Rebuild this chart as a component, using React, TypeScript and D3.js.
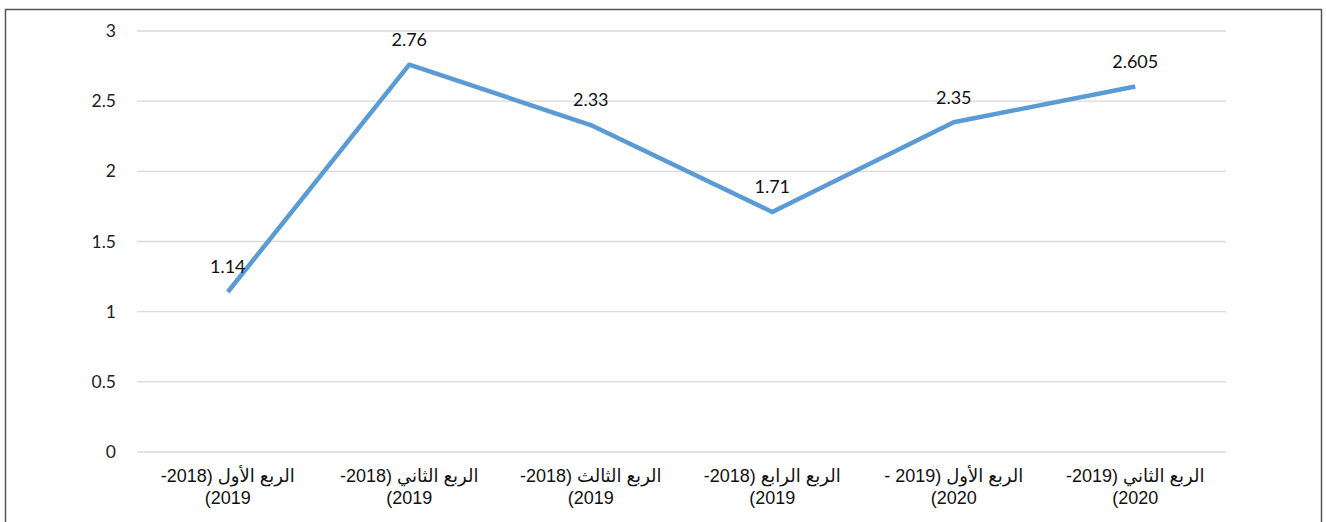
import React, { useRef, useEffect } from "react";
import * as d3 from "d3";

const categories = [
  ["الربع الأول (2018-", "2019)"],
  ["الربع الثاني (2018-", "2019)"],
  ["الربع الثالث (2018-", "2019)"],
  ["الربع الرابع (2018-", "2019)"],
  ["الربع الأول (2019 -", "2020)"],
  ["الربع الثاني (2019-", "2020)"],
];
const values = [1.14, 2.76, 2.33, 1.71, 2.35, 2.605];
const valueLabels = ["1.14", "2.76", "2.33", "1.71", "2.35", "2.605"];
const yTicks = [0, 0.5, 1, 1.5, 2, 2.5, 3];

export default function App() {
  const svgRef = useRef<SVGSVGElement>(null);

  useEffect(() => {
    const svg = d3.select(svgRef.current);
    svg.selectAll("*").remove();

    const width = 1326;
    const height = 522;
    const left = 137;
    const right = 1226;
    const top = 31;
    const bottom = 452;

    svg.attr("width", width).attr("height", height);

    svg.append("rect")
      .attr("width", width).attr("height", height).attr("fill", "#fff");

    // outer frame
    svg.append("path")
      .attr("d", `M5.5,${height} V9.5 H1321.5 V${height}`)
      .attr("fill", "none")
      .attr("stroke", "#555")
      .attr("stroke-width", 1.5);

    const idx = categories.map((_, i) => i);
    const x = d3.scaleBand<number>().domain(idx).range([left, right]);
    const y = d3.scaleLinear().domain([0, 3]).range([bottom, top]);

    const cx = (i: number) => (x(i) ?? 0) + x.bandwidth() / 2;

    // gridlines
    svg.append("g")
      .selectAll("line")
      .data(yTicks)
      .join("line")
      .attr("x1", left).attr("x2", right)
      .attr("y1", d => y(d)).attr("y2", d => y(d))
      .attr("stroke", "#d9d9d9")
      .attr("stroke-width", 1.3);

    svg.append("g")
      .selectAll("text")
      .data(yTicks)
      .join("text")
      .attr("x", 116)
      .attr("y", d => y(d))
      .attr("dy", "0.35em")
      .attr("text-anchor", "end")
      .style("font-family", "Lato, 'Liberation Sans', sans-serif")
      .style("font-size", "17.5px")
      .style("fill", "#222")
      .text(d => String(d));

    const line = d3.line<number>()
      .x((_, i) => cx(i))
      .y(d => y(d));

    svg.append("path")
      .datum(values)
      .attr("d", line)
      .attr("fill", "none")
      .attr("stroke", "#5B9BD5")
      .attr("stroke-width", 4.5)
      .attr("stroke-linejoin", "round");

    svg.append("g")
      .selectAll("text")
      .data(values)
      .join("text")
      .attr("x", (_, i) => cx(i))
      .attr("y", d => y(d) - 25)
      .attr("dy", "0.35em")
      .attr("text-anchor", "middle")
      .style("font-family", "Lato, 'Liberation Sans', sans-serif")
      .style("font-size", "18px")
      .style("fill", "#111")
      .text((_, i) => valueLabels[i]);

    const cat = svg.append("g")
      .selectAll("text")
      .data(categories)
      .join("text")
      .attr("x", (_, i) => cx(i))
      .attr("text-anchor", "middle")
      .attr("direction", "rtl")
      .style("font-family", "'Liberation Sans', Arial, 'DejaVu Sans', sans-serif")
      .style("font-size", "18px")
      .style("fill", "#111");

    cat.selectAll("tspan")
      .data(d => d)
      .join("tspan")
      .attr("x", function () {
        return (this.parentNode as SVGTextElement).getAttribute("x");
      })
      .attr("y", (_, j) => 482 + j * 22)
      .text(d => d);
  }, []);

  return (
    <div style={{ position: "absolute", left: 0, top: 0 }}>
      <svg ref={svgRef} style={{ display: "block" }} />
    </div>
  );
}
